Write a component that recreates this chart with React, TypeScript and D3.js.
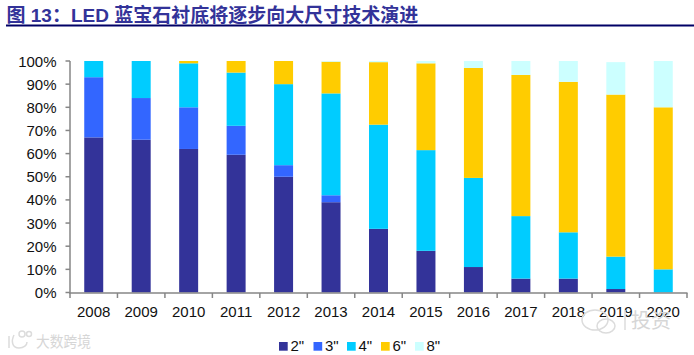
import React from "react";
import * as d3 from "d3";

const years = ["2008","2009","2010","2011","2012","2013","2014","2015","2016","2017","2018","2019","2020"];
const sizes = ['2"','3"','4"','6"','8"'];
const s2 = [67,66,62,59.5,50,39,27.5,18,11,6,6,1.5,0];
const s3 = [26,18,18,12.5,5,3,0,0,0,0,0,0,0];
const s4 = [7,16,19,23,35,44,45,43.5,38.5,27,20,14,10];
const s6 = [0,0,1,5,10,13.7,27,37.5,47.5,61,65,70,70];
const s8 = [0,0,0,0,0,0.3,0.5,1,3,6,9,14,20];
const colors = ["#333399","#3366FF","#00CCFF","#FFCC00","#CCFFFF"];
const yTicks = [0,10,20,30,40,50,60,70,80,90,100];
const title = "图 13：LED 蓝宝石衬底将逐步向大尺寸技术演进";

const font = "'Liberation Sans','Noto Sans CJK SC',sans-serif";

export default function App() {
  const rows = years.map((y, i) => ({ year: y, a: s2[i], b: s3[i], c: s4[i], d: s6[i], e: s8[i] }));
  const stack = d3.stack<any>().keys(["a","b","c","d","e"])(rows);
  const x = d3.scaleBand().domain(years).range([70, 687]).paddingInner(0.6).paddingOuter(0.3);
  const xOuter = d3.scaleBand().domain(years).range([70, 687]);
  const y = d3.scaleLinear().domain([0, 100]).range([292.5, 61]);
  const legendX = [279, 313.5, 347, 381, 415];
  return (
    <svg width={694} height={355} style={{ position: "absolute", left: 0, top: 0, background: "#fff" }} fontFamily={font}>
      <text x={6.5} y={21.5} fontSize={19} fontWeight="bold" fill="#333399">{title}</text>
      <line x1={6} x2={694} y1={25.5} y2={25.5} stroke="#000066" strokeWidth={2} />
      {stack.map((layer, si) => (
        <g key={si} fill={colors[si]}>
          {layer.map((d, i) => (
            d[1] - d[0] > 0 ? (
              <rect key={i} x={x(years[i])} width={x.bandwidth()} y={y(d[1])} height={y(d[0]) - y(d[1])} />
            ) : null
          ))}
        </g>
      ))}
      <g stroke="#868686" strokeWidth={1.5} fill="none">
        <line x1={70} x2={70} y1={61} y2={293} />
        <line x1={69} x2={687.5} y1={293} y2={293} />
        {yTicks.map(t => <line key={t} x1={65.5} x2={70} y1={y(t)} y2={y(t)} />)}
        {[...years.map(v => xOuter(v) as number), 687].map((v, i) => <line key={i} x1={v} x2={v} y1={293} y2={298} />)}
      </g>
      <g fontSize={15} fill="#111" textAnchor="end">
        {yTicks.map(t => <text key={t} x={56.5} y={y(t) + 5.5}>{t}%</text>)}
      </g>
      <g fontSize={15} fill="#111" textAnchor="middle">
        {years.map(v => <text key={v} x={(xOuter(v) as number) + xOuter.bandwidth() / 2} y={316.5}>{v}</text>)}
      </g>
      <g fontSize={15} fill="#111">
        {sizes.map((s, i) => (
          <g key={s}>
            <rect x={legendX[i]} y={342} width={8.7} height={8.7} fill={colors[i]} />
            <text x={legendX[i] + 11.5} y={351} fontSize={15}>{s}</text>
          </g>
        ))}
      </g>
      <g fill="#d6d6d6" fontSize={15}>
        <text x={36} y={347} textLength={55} lengthAdjust="spacingAndGlyphs">大数跨境</text>
        <text x={631} y={328} fontSize={20}>投资</text>
      </g>
      <g fill="none" stroke="#dcdcdc" strokeWidth={1.5}>
        <path d="M9 336 v12 M14 335 c-3 6 -2 13 5 13 c5 0 8 -3 8 -6" />
        <circle cx={22} cy={334} r={3} />
        <circle cx={29} cy={334} r={2.5} />
        <path d="M625 310 v20" />
        <ellipse cx={595} cy={320} rx={13} ry={10} />
        <ellipse cx={606} cy={326} rx={9} ry={7} />
      </g>
    </svg>
  );
}
